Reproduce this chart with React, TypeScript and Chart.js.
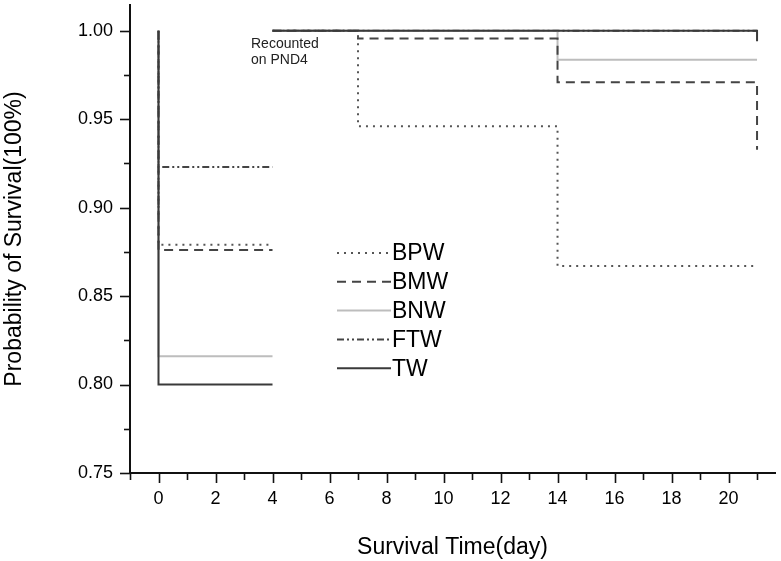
import React, { useEffect, useRef } from "react";
import { Chart, registerables } from "chart.js";

Chart.register(...registerables);

// ---- Data (Kaplan-Meier steps; null = break where animals were recounted on PND4) ----
const seriesNames = ["BPW", "BMW", "BNW", "FTW", "TW"];

const dayBPW = [0, 0, 4, 4, 4, 7, 14, 21];
const survBPW = [1.0, 0.879, 0.879, null, 1.0, 0.946, 0.867, 0.867];

const dayBMW = [0, 0, 4, 4, 4, 7, 14, 21];
const survBMW = [1.0, 0.876, 0.876, null, 1.0, 0.9955, 0.9708, 0.9327];

const dayBNW = [0, 0, 4, 4, 4, 14, 21];
const survBNW = [1.0, 0.816, 0.816, null, 1.0, 0.9836, 0.9836];

const dayFTW = [0, 0, 4, 4, 4, 21];
const survFTW = [1.0, 0.923, 0.923, null, 1.0, 1.0];

const dayTW = [0, 0, 4, 4, 4, 21, 21];
const survTW = [1.0, 0.8, 0.8, null, 1.0, 1.0, 0.994];

const xTickLabels = ["0", "2", "4", "6", "8", "10", "12", "14", "16", "18", "20"];
const yTickLabels = ["0.75", "0.80", "0.85", "0.90", "0.95", "1.00"];

const annotationLines = ["Recounted", "on PND4"];

const FONT = '"Liberation Sans", Arial, Helvetica, sans-serif';

const toPoints = (xs: number[], ys: (number | null)[]) =>
  xs.map((x, i) => ({ x, y: ys[i] }));

const decorPlugin = {
  id: "decor",
  afterDraw(chart: any) {
    const { ctx, chartArea } = chart;
    const xs = chart.scales.x;
    const ys = chart.scales.y;
    ctx.save();
    ctx.strokeStyle = "#111";
    ctx.lineWidth = 1.6;
    ctx.setLineDash([]);
    // x ticks
    xs.ticks.forEach((t: any) => {
      const px = Math.round(xs.getPixelForValue(t.value)) + 0.5;
      const major = Math.abs(t.value % 2) < 1e-6;
      ctx.beginPath();
      ctx.moveTo(px, chartArea.bottom);
      ctx.lineTo(px, chartArea.bottom + (major ? 10 : 7));
      ctx.stroke();
    });
    // y ticks
    ys.ticks.forEach((t: any) => {
      const py = Math.round(ys.getPixelForValue(t.value)) + 0.5;
      const major = Math.abs(Math.round(t.value * 20) - t.value * 20) < 1e-6;
      ctx.beginPath();
      ctx.moveTo(chartArea.left, py);
      ctx.lineTo(chartArea.left - (major ? 10 : 6), py);
      ctx.stroke();
    });

    // legend inside plot
    const lx0 = 337;
    const lx1 = 391;
    const ly0 = 253;
    const lstep = 28.8;
    chart.data.datasets.forEach((ds: any, i: number) => {
      const y = ly0 + i * lstep;
      ctx.strokeStyle = ds.borderColor;
      ctx.lineWidth = ds.borderWidth;
      ctx.setLineDash(ds.borderDash || []);
      ctx.beginPath();
      ctx.moveTo(lx0, y);
      ctx.lineTo(lx1, y);
      ctx.stroke();
      ctx.setLineDash([]);
      ctx.fillStyle = "#000";
      ctx.font = `23px ${FONT}`;
      ctx.textBaseline = "middle";
      ctx.textAlign = "left";
      ctx.fillText(ds.label, lx1 + 1, y + 1);
    });

    // annotation
    ctx.fillStyle = "#222";
    ctx.font = `14px ${FONT}`;
    ctx.textBaseline = "middle";
    ctx.fillText(annotationLines[0], 251, 44);
    ctx.fillText(annotationLines[1], 251, 60);
    ctx.restore();
  },
};

export default function App() {
  const ref = useRef<HTMLCanvasElement | null>(null);

  useEffect(() => {
    if (!ref.current) return;
    Chart.defaults.font.family = FONT;
    const styles = [
      { color: "#555", dash: [2, 5], width: 2, order: 2 },
      { color: "#444", dash: [9, 6], width: 2, order: 3 },
      { color: "#bdbdbd", dash: [], width: 2, order: 4 },
      { color: "#444", dash: [7, 3, 2, 3, 2, 3], width: 2, order: 5 },
      { color: "#3a3a3a", dash: [], width: 2, order: 0 },
    ];
    const dataArr = [
      toPoints(dayBPW, survBPW),
      toPoints(dayBMW, survBMW),
      toPoints(dayBNW, survBNW),
      toPoints(dayFTW, survFTW),
      toPoints(dayTW, survTW),
    ];
    const chart = new Chart(ref.current, {
      type: "line",
      data: {
        datasets: seriesNames.map((name, i) => ({
          label: name,
          data: dataArr[i],
          borderColor: styles[i].color,
          borderDash: styles[i].dash,
          borderWidth: styles[i].width,
          order: styles[i].order,
          stepped: "before",
          pointRadius: 0,
          fill: false,
          spanGaps: false,
        })),
      },
      options: {
        animation: false,
        responsive: false,
        layout: { padding: { left: 0, right: 6, top: 5, bottom: 0 } },
        plugins: {
          legend: { display: false },
          tooltip: { enabled: false },
        },
        scales: {
          x: {
            type: "linear",
            min: -1,
            max: 21.63,
            border: { display: true, color: "#111", width: 2 },
            grid: { display: true, drawOnChartArea: false, drawTicks: true, tickLength: 10, color: "rgba(0,0,0,0)" },
            ticks: {
              stepSize: 1,
              maxTicksLimit: 100,
              includeBounds: false,
              autoSkip: false,
              maxRotation: 0,
              padding: 5,
              color: "#000",
              font: { size: 18 },
              callback: (v: any) => {
                const s = String(v);
                return xTickLabels.includes(s) ? s : "";
              },
            },
            title: {
              display: true,
              text: "Survival Time(day)",
              color: "#000",
              font: { size: 23 },
              padding: { top: 4, bottom: 0 },
            },
            afterFit: (s: any) => {
              s.height = 88;
              s.paddingLeft = 0;
              s.paddingRight = 0;
            },
          },
          y: {
            type: "linear",
            min: 0.75,
            max: 1.0145,
            border: { display: true, color: "#111", width: 2 },
            grid: { display: true, drawOnChartArea: false, drawTicks: true, tickLength: 10, color: "rgba(0,0,0,0)" },
            ticks: {
              stepSize: 0.025,
              maxTicksLimit: 100,
              includeBounds: false,
              autoSkip: false,
              padding: 7,
              color: "#000",
              font: { size: 18 },
              callback: (v: any) => {
                const s = Number(v).toFixed(2);
                const onMajor = Math.abs(Math.round(v * 20) - v * 20) < 1e-6;
                return onMajor && yTickLabels.includes(s) ? s : "";
              },
            },
            title: {
              display: true,
              text: "Probability of Survival(100%)",
              color: "#000",
              font: { size: 23 },
              padding: { top: 1, bottom: 0 },
            },
            afterFit: (s: any) => {
              s.width = 130;
              s.paddingTop = 0;
              s.paddingBottom = 0;
            },
          },
        },
      },
      plugins: [decorPlugin],
    } as any);
    return () => chart.destroy();
  }, []);

  return (
    <div style={{ position: "absolute", left: 0, top: 0, width: 781, height: 561, background: "#fff" }}>
      <canvas ref={ref} width={781} height={561} style={{ display: "block" }} />
    </div>
  );
}
